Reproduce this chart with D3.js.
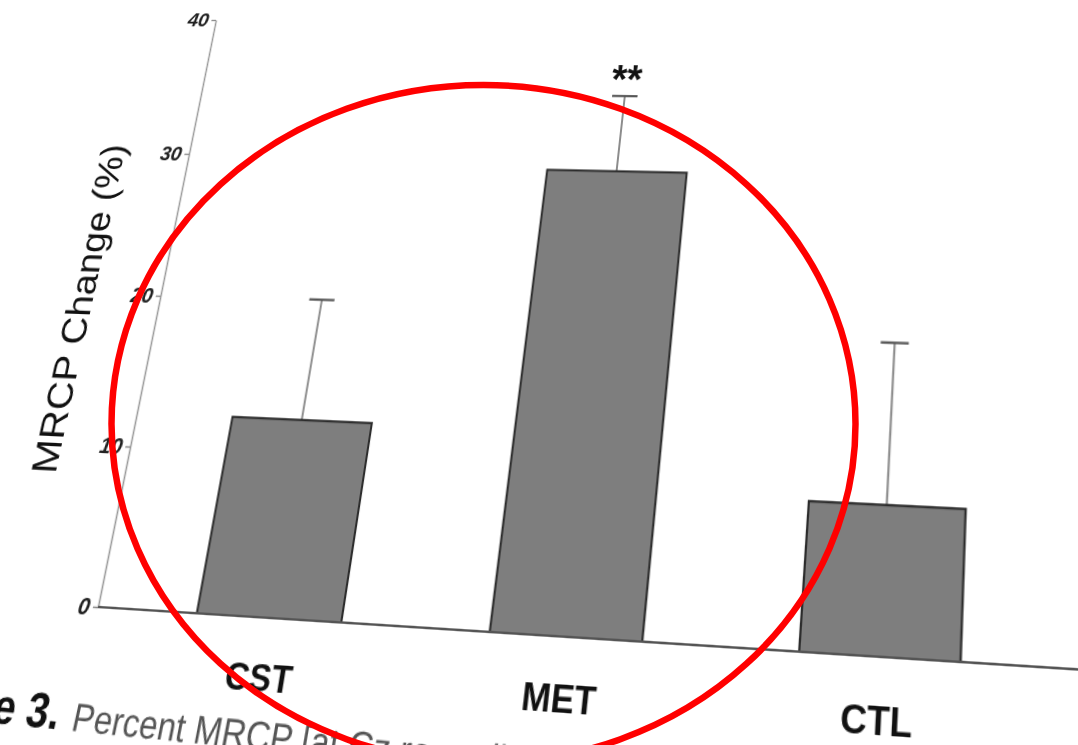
<!DOCTYPE html>
<html>
<head>
<meta charset="utf-8">
<script src="https://cdn.jsdelivr.net/npm/d3@7/dist/d3.min.js"></script>
<style>
  html, body { margin: 0; padding: 0; background: #fff; overflow: hidden; }
  #stage { position: relative; width: 1078px; height: 745px; overflow: hidden; background: #fff; }
  #chart { position: absolute; left: 0; top: 0; transform-origin: 0 0; overflow: visible; }
  #marker { position: absolute; left: 0; top: 0; }
  text { font-family: "Liberation Sans", Arial, Helvetica, sans-serif; }
</style>
</head>
<body>
<div id="stage"></div>
<script>
// ---- data -------------------------------------------------------------
const categories   = ["CST", "MET", "CTL"];
const meanChange   = [12.2, 29.4, 8.7];   // MRCP change, %
const errorUpper   = [7.9, 5.3, 9.9];     // upper error bar length, %
const significance = ["", "**", ""];
const yTicks       = [0, 10, 20, 30, 40];
const captionLead  = "Figure 3.";
const captionText  = "Percent MRCP [at Cz recording] change";

// ---- flat chart layout --------------------------------------------------
const ml = 160, mt = 60, pw = 900, ph = 560;
const W = 1120, H = 780;

// page positions of the plot rectangle corners (the printed page is seen at an angle)
const plotCorners = {
  bl: [98, 607], tl: [216, 20], tr: [1083.7, 26.8], br: [1076.5, 669.4]
};

// solve the projective map taking four source points onto four target points
function homography(src, dst) {
  const A = [], b = [];
  for (let i = 0; i < 4; i++) {
    const [x, y] = src[i], [X, Y] = dst[i];
    A.push([x, y, 1, 0, 0, 0, -x * X, -y * X]); b.push(X);
    A.push([0, 0, 0, x, y, 1, -x * Y, -y * Y]); b.push(Y);
  }
  const n = 8;
  for (let c = 0; c < n; c++) {
    let p = c;
    for (let r = c + 1; r < n; r++) if (Math.abs(A[r][c]) > Math.abs(A[p][c])) p = r;
    [A[c], A[p]] = [A[p], A[c]]; [b[c], b[p]] = [b[p], b[c]];
    for (let r = 0; r < n; r++) {
      if (r === c) continue;
      const f = A[r][c] / A[c][c];
      for (let k = c; k < n; k++) A[r][k] -= f * A[c][k];
      b[r] -= f * b[c];
    }
  }
  return b.map((v, i) => v / A[i][i]); // a b c d e f g h
}

const hm = homography(
  [[ml, mt + ph], [ml, mt], [ml + pw, mt], [ml + pw, mt + ph]],
  [plotCorners.bl, plotCorners.tl, plotCorners.tr, plotCorners.br]
);
const [a, bb, c, d, e, f, g, h] = hm;

const stage = d3.select("#stage");

const svg = stage.append("svg")
  .attr("id", "chart")
  .attr("width", W)
  .attr("height", H)
  .style("transform", `matrix3d(${a},${d},0,${g},${bb},${e},0,${h},0,0,1,0,${c},${f},0,1)`);

const root = svg.append("g").attr("transform", `translate(${ml},${mt})`);

// ---- scales -------------------------------------------------------------
const x = d3.scaleBand().domain(categories).range([0, pw]).paddingInner(0.5).paddingOuter(0.35);
const y = d3.scaleLinear().domain([0, 40]).range([ph, 0]);

const rows = categories.map((cat, i) => ({
  cat, mean: meanChange[i], err: errorUpper[i], sig: significance[i]
}));

// ---- y axis -------------------------------------------------------------
const yAxis = root.append("g")
  .call(d3.axisLeft(y).tickValues(yTicks).tickSize(5).tickSizeOuter(0).tickPadding(3));
yAxis.select(".domain").attr("stroke", "#9a9a9a").attr("stroke-width", 1.6);
yAxis.selectAll(".tick line").attr("stroke", "#8a8a8a").attr("stroke-width", 1.4);
yAxis.selectAll(".tick text")
  .attr("fill", "#222")
  .style("font-size", "21px")
  .style("font-weight", "bold")
  .style("font-style", "italic");

// ---- error bars (drawn behind the bars) ---------------------------------
const capW = 26;
const eb = root.append("g").selectAll("g").data(rows).join("g");
eb.append("line")
  .attr("x1", r => x(r.cat) + x.bandwidth() / 2)
  .attr("x2", r => x(r.cat) + x.bandwidth() / 2)
  .attr("y1", r => y(r.mean))
  .attr("y2", r => y(r.mean + r.err))
  .attr("stroke", "#8c8c8c").attr("stroke-width", 2);
eb.append("line")
  .attr("x1", r => x(r.cat) + x.bandwidth() / 2 - capW / 2)
  .attr("x2", r => x(r.cat) + x.bandwidth() / 2 + capW / 2)
  .attr("y1", r => y(r.mean + r.err))
  .attr("y2", r => y(r.mean + r.err))
  .attr("stroke", "#555").attr("stroke-width", 2.2);

// ---- bars ---------------------------------------------------------------
root.append("g").selectAll("rect").data(rows).join("rect")
  .attr("x", r => x(r.cat))
  .attr("y", r => y(r.mean))
  .attr("width", x.bandwidth())
  .attr("height", r => y(0) - y(r.mean))
  .attr("fill", "#7e7e7e")
  .attr("stroke", "#2b2b2b")
  .attr("stroke-width", 2);

// significance marks
root.append("g").selectAll("text").data(rows.filter(r => r.sig)).join("text")
  .attr("x", r => x(r.cat) + x.bandwidth() / 2)
  .attr("y", r => y(r.mean + r.err) - 3)
  .attr("text-anchor", "middle")
  .attr("fill", "#111")
  .style("font-size", "40px")
  .style("font-weight", "bold")
  .text(r => r.sig);

// ---- x axis (baseline + category names) ---------------------------------
root.append("line")
  .attr("x1", 0).attr("x2", pw + 14)
  .attr("y1", y(0)).attr("y2", y(0))
  .attr("stroke", "#555").attr("stroke-width", 2);

const xAxis = root.append("g")
  .attr("transform", `translate(0,${y(0)})`)
  .call(d3.axisBottom(x).tickSize(0).tickPadding(37));
xAxis.select(".domain").remove();
xAxis.selectAll(".tick text")
  .attr("fill", "#111")
  .style("font-size", "32px")
  .style("font-weight", "bold");

// ---- y axis title -------------------------------------------------------
root.append("text")
  .attr("transform", `translate(${-84},${y(19.3)}) rotate(-90)`)
  .attr("text-anchor", "middle")
  .attr("dy", "0.35em")
  .attr("fill", "#111")
  .style("font-size", "37px")
  .text("MRCP Change (%)");

// ---- figure caption -----------------------------------------------------
const capEndX = -16, capY = y(0) + 102;
const capG = root.append("g").attr("transform", `rotate(1.2,${capEndX},${capY})`);
capG.append("text")
  .attr("x", capEndX)
  .attr("y", capY)
  .attr("text-anchor", "end")
  .attr("fill", "#111")
  .style("font-size", "40px")
  .style("font-weight", "bold")
  .text(captionLead);
capG.append("text")
  .attr("x", capEndX + 13)
  .attr("y", capY)
  .attr("fill", "#555")
  .style("font-size", "32px")
  .text(captionText);

// ---- red marker ellipse drawn over the page ------------------------------
const overlay = stage.append("svg")
  .attr("id", "marker")
  .attr("width", 1078)
  .attr("height", 745);
overlay.append("ellipse")
  .attr("cx", 483.5).attr("cy", 424)
  .attr("rx", 372).attr("ry", 339)
  .attr("fill", "none")
  .attr("stroke", "#ff0000")
  .attr("stroke-width", 6.5);
</script>
</body>
</html>
